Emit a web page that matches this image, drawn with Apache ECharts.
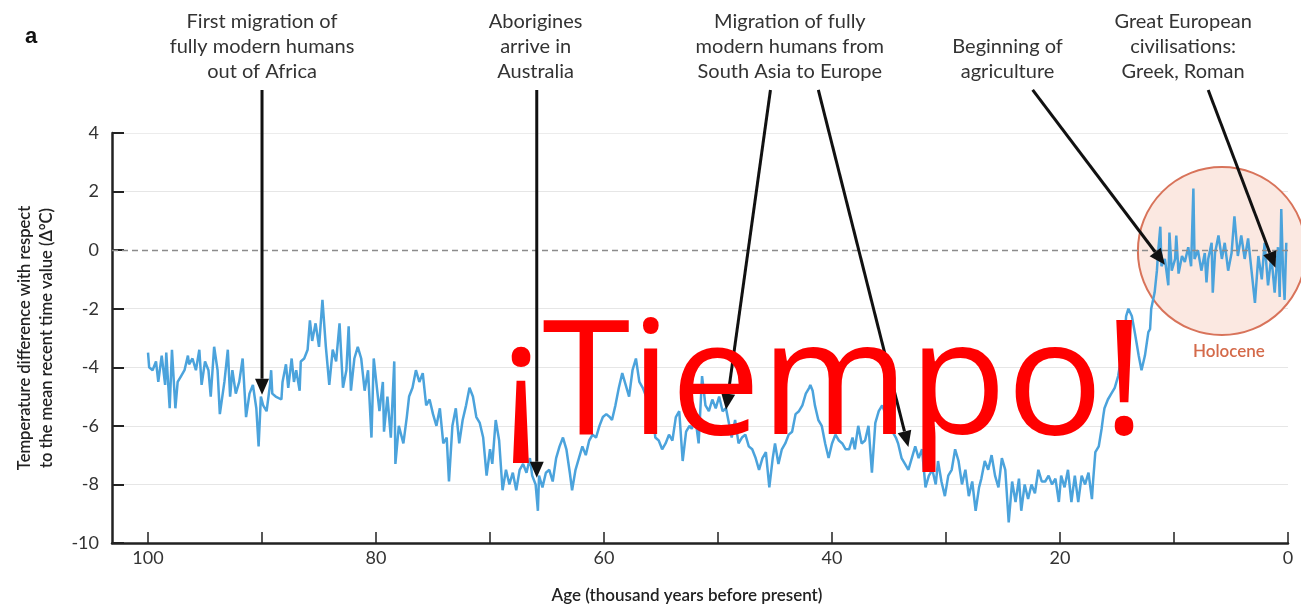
<!DOCTYPE html>
<html>
<head>
<meta charset="utf-8">
<title>Temperature over the last 100 000 years</title>
<script src="https://cdn.jsdelivr.net/npm/echarts@6/dist/echarts.min.js"></script>
<style>
	html, body { margin: 0; padding: 0; background: #fff; }
	#chart { width: 1301px; height: 609px; }
</style>
</head>
<body>
<div id="chart"></div>
<script>
// Temperature record: [age (kyr BP), ΔT (°C)]
var record = [
	[100.0,-3.5],[99.9,-4.0],[99.6,-4.1],[99.3,-3.8],[99.1,-4.5],[98.8,-3.6],[98.5,-4.6],[98.4,-3.5],[98.1,-5.4],[97.9,-3.4],
	[97.6,-5.4],[97.4,-4.5],[97.1,-4.3],[96.8,-4.1],[96.5,-3.6],[96.4,-3.9],[96.1,-3.7],[95.8,-4.1],[95.5,-3.4],[95.3,-4.6],
	[95.0,-3.8],[94.7,-4.1],[94.5,-5.0],[94.2,-3.3],[93.9,-4.1],[93.7,-5.6],[93.3,-4.5],[93.0,-3.4],[92.8,-5.0],[92.6,-4.1],
	[92.3,-4.9],[92.0,-4.5],[91.7,-3.7],[91.4,-5.7],[91.1,-4.9],[90.8,-4.6],[90.5,-5.4],[90.3,-6.7],[90.1,-5.0],[89.9,-5.3],
	[89.6,-5.5],[89.3,-4.6],[89.2,-4.1],[89.1,-4.9],[88.8,-5.0],[88.3,-5.1],[88.2,-4.5],[87.9,-3.9],[87.7,-4.7],[87.4,-3.7],
	[87.2,-4.5],[87.0,-4.1],[86.7,-4.8],[86.6,-3.8],[86.3,-3.7],[86.0,-3.4],[85.8,-2.4],[85.6,-3.1],[85.3,-2.5],[85.0,-3.3],
	[84.7,-1.7],[84.4,-3.3],[84.1,-4.6],[83.8,-3.4],[83.5,-3.8],[83.2,-2.5],[82.9,-4.7],[82.6,-4.1],[82.4,-2.6],[82.2,-4.8],
	[81.9,-3.7],[81.6,-3.3],[81.3,-3.7],[81.0,-4.8],[80.7,-4.1],[80.4,-6.4],[80.2,-3.7],[79.7,-5.5],[79.4,-4.5],[79.3,-6.2],
	[79.0,-5.0],[78.7,-6.4],[78.4,-3.8],[78.3,-7.3],[78.0,-6.0],[77.6,-6.6],[77.3,-5.7],[77.1,-5.0],[76.8,-4.7],[76.5,-4.1],
	[76.2,-4.5],[75.9,-4.2],[75.6,-5.3],[75.3,-5.1],[75.0,-5.6],[74.7,-6.0],[74.4,-5.4],[74.1,-6.6],[73.8,-6.4],[73.6,-7.9],
	[73.3,-6.0],[73.0,-5.4],[72.7,-6.6],[72.4,-5.8],[72.1,-5.3],[71.8,-4.7],[71.5,-5.0],[71.2,-5.7],[70.9,-5.9],[70.6,-6.4],
	[70.3,-7.7],[70.0,-6.8],[69.8,-7.3],[69.5,-5.8],[69.2,-6.5],[68.9,-8.2],[68.6,-7.5],[68.3,-8.0],[68.0,-7.6],[67.7,-8.2],
	[67.4,-7.5],[67.1,-7.3],[66.8,-7.6],[66.5,-7.1],[66.3,-7.7],[66.0,-8.0],[65.8,-8.9],[65.7,-7.7],[65.4,-8.1],[65.1,-7.6],
	[64.8,-7.5],[64.5,-7.9],[64.2,-7.1],[63.9,-6.7],[63.6,-6.4],[63.3,-6.8],[63.0,-7.6],[62.8,-8.2],[62.5,-7.5],[62.2,-7.1],
	[61.9,-6.7],[61.6,-7.0],[61.3,-6.5],[61.0,-6.3],[60.7,-6.4],[60.4,-6.0],[60.1,-5.7],[59.8,-5.6],[59.5,-5.7],[59.3,-5.8],
	[59.0,-5.3],[58.7,-4.7],[58.4,-4.2],[58.1,-4.6],[57.8,-5.0],[57.5,-4.1],[57.2,-3.7],[56.9,-4.5],[56.6,-4.7],[56.3,-5.0],
	[56.0,-4.9],[55.7,-5.6],[55.5,-6.4],[55.2,-6.5],[54.9,-6.8],[54.6,-6.6],[54.3,-6.3],[54.0,-6.5],[53.7,-5.7],[53.4,-5.5],
	[53.1,-7.2],[52.8,-6.2],[52.5,-6.0],[52.3,-6.1],[52.0,-5.7],[51.7,-6.6],[51.4,-4.3],[51.1,-5.3],[50.8,-5.5],[50.5,-5.1],
	[50.2,-5.4],[49.9,-5.0],[49.6,-5.5],[49.3,-5.4],[49.0,-6.0],[48.8,-6.4],[48.5,-5.8],[48.2,-6.6],[47.9,-6.4],[47.6,-6.3],
	[47.3,-6.7],[47.0,-6.8],[46.7,-7.1],[46.4,-7.5],[46.1,-7.1],[45.8,-6.9],[45.5,-8.1],[45.2,-7.1],[45.0,-6.6],[44.7,-7.3],
	[44.4,-6.8],[44.1,-6.6],[43.8,-6.3],[43.5,-6.2],[43.2,-5.6],[42.9,-5.5],[42.6,-5.3],[42.3,-4.9],[42.0,-4.7],[41.9,-4.6],
	[41.7,-4.8],[41.5,-5.3],[41.2,-5.8],[40.9,-6.0],[40.6,-6.6],[40.3,-7.1],[40.0,-6.6],[39.7,-6.3],[39.4,-6.5],[39.1,-6.6],
	[38.8,-6.8],[38.5,-6.8],[38.2,-6.4],[38.0,-6.8],[37.7,-6.0],[37.4,-6.6],[37.1,-6.5],[36.8,-6.0],[36.5,-7.6],[36.2,-5.9],
	[35.9,-5.5],[35.6,-5.3],[35.3,-5.6],[35.0,-5.9],[34.7,-6.2],[34.4,-6.4],[34.2,-6.6],[33.9,-7.1],[33.6,-7.3],[33.3,-7.5],
	[33.0,-7.1],[32.7,-6.7],[32.4,-7.1],[32.1,-6.8],[31.8,-8.1],[31.5,-7.7],[31.2,-7.5],[30.9,-8.0],[30.7,-7.2],[30.4,-7.9],
	[30.1,-8.4],[29.8,-7.7],[29.5,-7.5],[29.2,-6.8],[28.9,-7.2],[28.6,-8.0],[28.3,-7.5],[28.0,-8.4],[27.7,-7.9],[27.4,-8.9],
	[27.1,-8.1],[26.9,-7.8],[26.6,-7.2],[26.3,-7.5],[26.0,-7.0],[25.7,-7.7],[25.4,-8.1],[25.1,-7.1],[24.8,-7.5],[24.5,-9.3],
	[24.2,-7.9],[23.9,-8.6],[23.6,-7.8],[23.4,-8.9],[23.1,-8.0],[22.8,-8.5],[22.5,-8.0],[22.2,-8.3],[21.9,-7.5],[21.6,-7.9],
	[21.3,-7.9],[21.0,-7.7],[20.7,-8.0],[20.4,-7.8],[20.1,-8.6],[19.9,-7.7],[19.6,-8.1],[19.3,-7.5],[19.0,-8.6],[18.7,-7.7],
	[18.4,-8.6],[18.1,-7.7],[17.8,-8.0],[17.5,-7.6],[17.2,-8.5],[17.1,-7.9],[16.9,-6.9],[16.6,-6.7],[16.35,-6.1],[16.2,-5.65],
	[16.1,-5.4],[15.8,-5.1],[15.5,-4.9],[15.2,-4.7],[14.9,-4.3],[14.6,-3.6],[14.45,-3.4],[14.3,-2.8],[14.2,-2.25],[14.0,-2.0],
	[13.7,-2.25],[13.4,-2.9],[13.1,-3.6],[12.85,-4.1],[12.55,-3.6],[12.25,-2.8],[12.1,-2.7],[12.0,-2.0],[11.7,-1.45],[11.5,-0.7],
	[11.4,-0.1],[11.2,0.8],[11.1,-0.55],[10.8,-0.3],[10.5,-1.2],[10.4,0.6],[10.2,-0.7],[9.9,-0.3],[9.8,0.5],[9.6,-0.8],
	[9.3,-0.2],[9.05,-0.4],[8.75,0.1],[8.5,-0.55],[8.3,2.1],[8.2,-0.3],[7.9,0.0],[7.6,-0.7],[7.3,-0.1],[7.15,-1.1],
	[7.0,-0.3],[6.7,0.25],[6.6,-1.45],[6.4,-0.1],[6.1,0.5],[5.8,-0.3],[5.55,0.25],[5.25,-0.7],[4.95,-0.1],[4.7,1.15],
	[4.4,-0.2],[4.1,0.5],[3.8,-0.3],[3.5,0.4],[3.2,-0.7],[2.9,-1.8],[2.6,-0.2],[2.3,-1.0],[2.05,0.25],[1.75,-1.2],
	[1.46,-0.2],[1.17,-1.45],[0.88,0.1],[0.73,-1.6],[0.59,1.4],[0.44,-0.7],[0.3,-1.7],[0.15,0.25]
]

// Axis settings
var xTickStep = 10
var xLabelStep = 20
var yTickStep = 2

// Annotations: label text and the age where the label is centred
var noteLabels = [
	'First migration of\nfully modern humans\nout of Africa',
	'Aborigines\narrive in\nAustralia',
	'Migration of fully\nmodern humans from\nSouth Asia to Europe',
	'Beginning of\nagriculture',
	'Great European\ncivilisations:\nGreek, Roman',
]
var noteAges = [90.0, 66.0, 43.7, 24.6, 9.2]

// Arrows: tail and head in [age, ΔT]
var arrowTails = [[90.0, 5.47], [65.9, 5.47], [45.4, 5.47], [41.2, 5.47], [22.4, 5.47], [7.0, 5.47]]
var arrowHeads = [[90.0, -4.94], [65.9, -7.77], [49.3, -5.45], [33.3, -6.72], [10.8, -0.5], [1.1, -0.6]]

// Holocene highlight centre
var holoceneCentre = [5.8, -0.03]

var chart = echarts.init(document.getElementById('chart'))

// Grid lines: hide the one at 0 (dashed line drawn instead)
var splitColors = ['rgba(0,0,0,0)', '#e6e6e6', '#e6e6e6', '#e6e6e6', '#e6e6e6', 'rgba(0,0,0,0)', '#e6e6e6', '#ececec']

// Create options object for chart
var option = {
	animation: false,
	backgroundColor: '#fff',
	grid: { left: 112, right: 13, top: 133, bottom: 66 },
	xAxis: {
		type: 'value',
		inverse: true,
		min: 0,
		max: 103.16,
		interval: xTickStep,
		name: 'Age (thousand years before present)',
		nameLocation: 'middle',
		nameGap: 44,
		nameTextStyle: { fontFamily: 'Lato', fontSize: 17, fontWeight: 600, color: '#222', padding: [0, 26, 0, 0] },
		axisLine: { onZero: false, lineStyle: { color: '#222', width: 2.5 } },
		axisTick: { inside: true, length: 11, lineStyle: { color: '#222', width: 1.5 } },
		axisLabel: {
			fontFamily: 'Lato',
			fontSize: 18,
			color: '#333',
			margin: 6,
			showMaxLabel: false,
			formatter: (v) => (v % xLabelStep === 0 ? String(v) : ''),
		},
		splitLine: { show: false },
	},
	yAxis: {
		type: 'value',
		min: -10,
		max: 4,
		interval: yTickStep,
		name: 'Temperature difference with respect\nto the mean recent time value (Δ°C)',
		nameLocation: 'middle',
		nameGap: 54,
		nameTextStyle: { fontFamily: 'Lato', fontSize: 16.5, fontWeight: 600, color: '#222', lineHeight: 22 },
		axisLine: { show: true, onZero: false, lineStyle: { color: '#222', width: 2.5 } },
		axisTick: { show: true, inside: true, length: 12, lineStyle: { color: '#222', width: 2 } },
		axisLabel: { fontFamily: 'Lato', fontSize: 18, color: '#333', margin: 13 },
		splitLine: { show: true, lineStyle: { color: splitColors, width: 1.2 } },
	},
	series: [
		{
			type: 'line',
			data: record,
			showSymbol: false,
			z: 3,
			lineStyle: { color: '#4ba3dc', width: 2.5 },
			markLine: {
				silent: true,
				symbol: 'none',
				label: { show: false },
				lineStyle: { color: '#8c8c8c', type: [6, 4], width: 1.3 },
				data: [{ yAxis: 0 }],
			},
		},
	],
}

chart.setOption(option)

// Build annotation graphics from data coordinates
var toPx = (pt) => chart.convertToPixel({ gridIndex: 0 }, pt)
var graphics = []

var centre = toPx(holoceneCentre)
graphics.push({
	type: 'circle',
	z: 1,
	shape: { cx: centre[0], cy: centre[1], r: 84 },
	style: { fill: '#fbe8e1', stroke: '#d8735a', lineWidth: 2 },
})
graphics.push({
	type: 'text',
	z: 1,
	x: centre[0] + 7,
	y: centre[1] + 100,
	style: { text: 'Holocene', font: '600 17px Lato', fill: '#d46a4a', align: 'center', verticalAlign: 'middle', textAlign: 'center', textVerticalAlign: 'middle' },
})

noteLabels.forEach((label, i) => {
	var p = toPx([noteAges[i], 0])
	graphics.push({
		type: 'text',
		z: 10,
		x: p[0],
		y: 84,
		style: { text: label, font: '20px Lato', lineHeight: 25, fill: '#333', align: 'center', verticalAlign: 'bottom', textAlign: 'center', textVerticalAlign: 'bottom' },
	})
})

arrowTails.forEach((tail, i) => {
	var a = toPx(tail)
	var b = toPx(arrowHeads[i])
	var dx = b[0] - a[0], dy = b[1] - a[1]
	var len = Math.sqrt(dx * dx + dy * dy)
	var ux = dx / len, uy = dy / len
	var bx = b[0] - ux * 16, by = b[1] - uy * 16
	graphics.push({
		type: 'line',
		z: 10,
		shape: { x1: a[0], y1: a[1], x2: bx, y2: by },
		style: { stroke: '#111', lineWidth: 3 },
	})
	graphics.push({
		type: 'polygon',
		z: 10,
		shape: { points: [[b[0], b[1]], [bx - uy * 7, by + ux * 7], [bx + uy * 7, by - ux * 7]] },
		style: { fill: '#111' },
	})
})

// Panel letter
graphics.push({
	type: 'text',
	z: 10,
	x: 25,
	y: 37,
	style: { text: 'a', font: 'bold 22px "Liberation Sans"', fill: '#111', align: 'left', verticalAlign: 'middle', textAlign: 'left', textVerticalAlign: 'middle' },
})

// Overlay stamp
graphics.push({
	type: 'text',
	z: 20,
	x: 500,
	y: 388,
	style: { text: '¡Tiempo!', font: '160px "Open Sans"', fill: '#ff0000', align: 'left', verticalAlign: 'middle', textAlign: 'left', textVerticalAlign: 'middle' },
})

chart.setOption({ graphic: graphics })
</script>
</body>
</html>
